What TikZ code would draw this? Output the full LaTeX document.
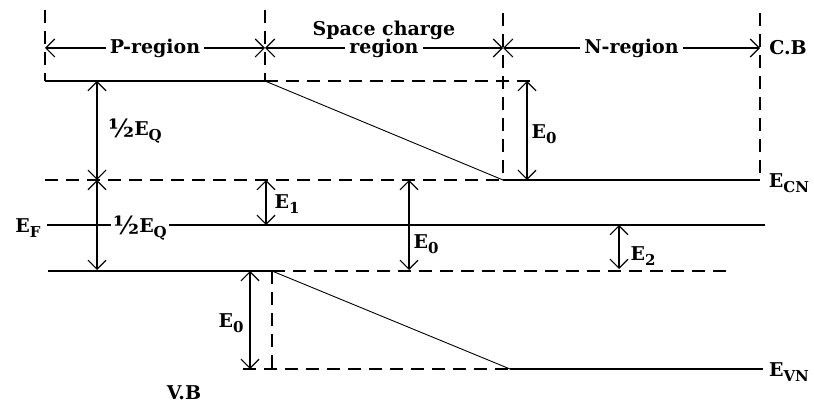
\documentclass[tikz,border=0pt]{standalone}
\usepackage{fontspec}
\setmainfont{DejaVu Serif}
\usetikzlibrary{arrows.meta,positioning}
\newcommand{\lowsub}[1]{\raisebox{-0.5ex}{\fontsize{15}{15}\selectfont #1}}
\newcommand{\halfsym}{\raisebox{-0.25ex}{\fontsize{25}{25}\selectfont ½}}

\begin{document}
\begin{tikzpicture}[x=1pt, y=-1pt,
    band/.style={line width=1.4pt},
    slope/.style={line width=0.9pt},
    guide/.style={line width=1.2pt, dash pattern=on 13pt off 8pt},
    dim/.style={{Straight Barb[length=9pt,width=18pt]}-{Straight Barb[length=9pt,width=18pt]},
                line width=1.1pt},
    lbl/.style={font=\fontsize{19}{21}\selectfont\bfseries, inner sep=1pt},
  ]
  \useasboundingbox (0,0) rectangle (814,403);

  % region boundaries
  \coordinate (gP) at (45,10);
  \coordinate (gS) at (265,10);
  \coordinate (gN) at (503,13);
  \coordinate (gC) at (760,13);
  \coordinate (aP) at (45,48);
  \coordinate (aS) at (265,48);
  \coordinate (aN) at (503,48);
  \coordinate (aC) at (760,48);

  % conduction band
  \coordinate (cbP) at (45,81);
  \coordinate (cbS) at (265,81);
  \coordinate (cbX) at (532,81);
  \coordinate (cbW) at (45,180);
  \coordinate (cbN) at (503,180);
  \coordinate (cbE) at (760,180);
  \coordinate (cbC) at (760,175);

  % fermi level
  \coordinate (efW) at (47,225);
  \coordinate (efE) at (765,225);

  % valence band
  \coordinate (vbP) at (48,271);
  \coordinate (vbS) at (272,271);
  \coordinate (vbX) at (730,271);
  \coordinate (vbW) at (243,369);
  \coordinate (vbD) at (272,369);
  \coordinate (vbN) at (510,369);
  \coordinate (vbE) at (763,369);

  % dashed guides
  \draw[guide] (gP) -- (cbP);
  \draw[guide] (gS) -- (cbS);
  \draw[guide] (gN) -- (cbN);
  \draw[guide] (gC) -- (cbC);
  \draw[guide] (cbS) -- (cbX);
  \draw[guide] (cbW) -- (cbN);
  \draw[guide] (vbS) -- (vbX);
  \draw[guide] (vbW) -- (vbN);
  \draw[guide] (vbS) -- (vbD);

  % bands
  \draw[band] (cbP) -- (cbS);
  \draw[slope] (cbS) -- (cbN);
  \draw[band] (cbN) -- (cbE);
  \draw[band] (vbP) -- (vbS);
  \draw[slope] (vbS) -- (vbN);
  \draw[band] (vbN) -- (vbE);
  \draw[band] (efW) -- (efE);

  % region widths
  \draw[dim] (aP) -- (aS) node[midway, lbl, fill=white, inner xsep=4pt] (preg) {P-region};
  \draw[dim] (aS) -- (aN) node[midway, lbl, fill=white, inner xsep=4pt] (sreg) {region};
  \node[lbl, above=-4pt of sreg] (sch) {Space charge};
  \draw[dim] (aN) -- (aC) node[midway, lbl, fill=white, inner xsep=4pt] (nreg) {N-region};
  \node[lbl] (cb) at (788,48) {C.B};

  % energy gaps
  \coordinate (q1) at (97,81);
  \coordinate (q2) at (97,180);
  \coordinate (q3) at (97,270);
  \coordinate (e1a) at (266,180);
  \coordinate (e1b) at (266,225);
  \coordinate (e0a) at (409,180);
  \coordinate (e0b) at (409,270);
  \coordinate (e2a) at (619,225);
  \coordinate (e2b) at (619,269);
  \coordinate (e0c) at (527,81);
  \coordinate (e0d) at (527,180);
  \coordinate (e0e) at (250,271);
  \coordinate (e0f) at (250,369);

  \draw[dim] (q1) -- (q2);
  \draw[dim] (q2) -- (q3);
  \draw[dim] (e1a) -- (e1b);
  \draw[dim] (e0a) -- (e0b);
  \draw[dim] (e2a) -- (e2b);
  \draw[dim] (e0c) -- (e0d);
  \draw[dim] (e0e) -- (e0f);

  % labels
  \node[lbl] (hq1) at (135,131) {\halfsym E\lowsub{Q}};
  \node[lbl, fill=white, inner xsep=2pt] (hq2) at (140,228) {\halfsym E\lowsub{Q}};
  \node[lbl] (ef) at (28,228) {E\lowsub{F}};
  \node[lbl] (ecn) at (789,183) {E\lowsub{CN}};
  \node[lbl] (evn) at (789,372) {E\lowsub{VN}};
  \node[lbl] (le1) at (287,204) {E\lowsub{1}};
  \node[lbl] (le0m) at (426,244) {E\lowsub{0}};
  \node[lbl] (le2) at (643,256) {E\lowsub{2}};
  \node[lbl] (le0c) at (544,134) {E\lowsub{0}};
  \node[lbl] (le0v) at (231,323) {E\lowsub{0}};
  \node[lbl] (vb) at (184,393) {V.B};
\end{tikzpicture}
\end{document}
